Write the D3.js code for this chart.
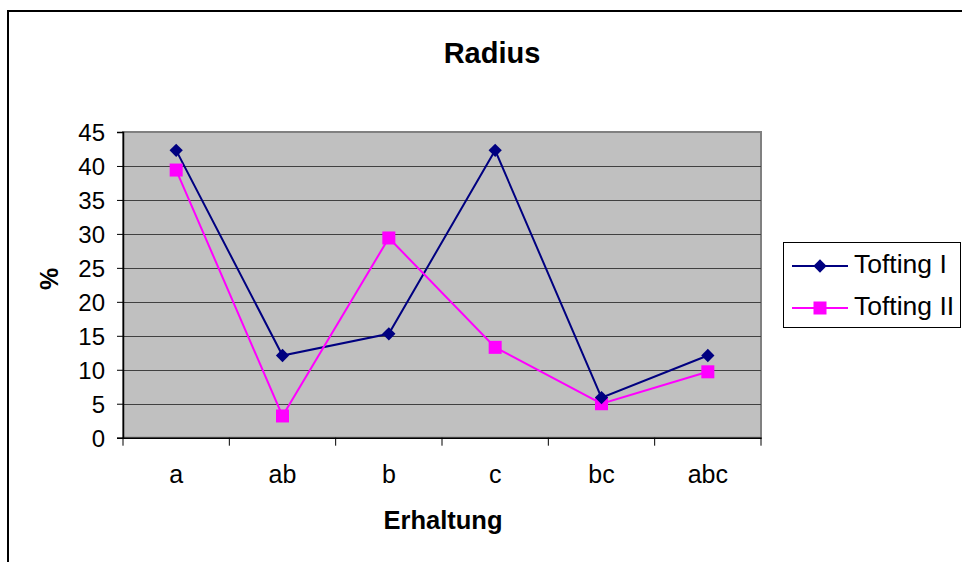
<!DOCTYPE html>
<html><head><meta charset="utf-8">
<script src="https://cdn.jsdelivr.net/npm/d3@7"></script>
<style>body{margin:0;background:#fff}svg{display:block;font-family:"Liberation Sans",Arial,sans-serif}</style>
</head><body>
<svg id="c" width="962" height="562"></svg>
<script>
const categories = ["a","ab","b","c","bc","abc"];
const seriesNames = ["Tofting I","Tofting II"];
const toftingI = [42.3, 12.1, 15.3, 42.3, 5.9, 12.1];
const toftingII = [39.4, 3.2, 29.4, 13.3, 5.0, 9.7];
const yTicks = [0,5,10,15,20,25,30,35,40,45];
const colors = ["#000080","#FF00FF"];

const FF = "Liberation Sans, Arial, sans-serif";
const svg = d3.select("#c");
svg.append("rect").attr("x",8).attr("y",11).attr("width",970).attr("height",570)
  .attr("fill","#fff").attr("stroke","#000").attr("stroke-width",2);

const L=123, R=761, T=132, B=437.7;
const x = d3.scaleBand().domain(categories).range([L,R]);
const y = d3.scaleLinear().domain([0,45]).range([B,T]);

svg.append("rect").attr("x",L).attr("y",T).attr("width",R-L).attr("height",B-T)
  .attr("fill","#c0c0c0").attr("stroke","#808080").attr("stroke-width",2);

svg.append("g").selectAll("line").data(yTicks.filter(d=>d>0&&d<45)).join("line")
  .attr("x1",L).attr("x2",R).attr("y1",d=>Math.round(y(d))+0.5).attr("y2",d=>Math.round(y(d))+0.5)
  .attr("stroke","#404040").attr("stroke-width",1);

// y axis
const ya = svg.append("g").attr("transform",`translate(${L},0)`)
  .call(d3.axisLeft(y).tickValues(yTicks).tickSize(6).tickPadding(12));
ya.select(".domain").attr("stroke","#000").attr("stroke-width",1.5);
ya.selectAll(".tick line").attr("stroke","#000");
ya.selectAll("text").attr("font-size",24).attr("fill","#000").attr("font-family",FF).attr("dy","0.36em");

// x axis
const xa = svg.append("g").attr("transform",`translate(0,${B})`)
  .call(d3.axisBottom(x).tickSize(0).tickPadding(36));
xa.select(".domain").attr("stroke","#000").attr("stroke-width",1.5);
xa.selectAll("text").attr("font-size",25).attr("fill","#000").attr("font-family",FF).attr("dy","0.36em");
const bounds = categories.map(c=>x(c)).concat([R]);
svg.append("g").selectAll("line").data(bounds).join("line")
  .attr("x1",d=>d).attr("x2",d=>d).attr("y1",B).attr("y2",B+8).attr("stroke","#000");

const line = d3.line().x((d,i)=>x(categories[i])+x.bandwidth()/2).y(d=>y(d));
const data = [toftingI, toftingII];
data.forEach((vals,si)=>{
  svg.append("path").attr("d",line(vals)).attr("fill","none").attr("stroke",colors[si]).attr("stroke-width",2);
});
// markers
svg.append("g").selectAll("rect").data(toftingII).join("rect")
  .attr("x",(d,i)=>x(categories[i])+x.bandwidth()/2-6.5).attr("y",d=>y(d)-6.5)
  .attr("width",13).attr("height",13).attr("fill",colors[1]);
svg.append("g").selectAll("path").data(toftingI).join("path")
  .attr("d",d3.symbol(d3.symbolSquare,88))
  .attr("transform",(d,i)=>`translate(${x(categories[i])+x.bandwidth()/2},${y(d)}) rotate(45)`)
  .attr("fill",colors[0]);

// titles
svg.append("text").attr("x",492).attr("y",63).attr("text-anchor","middle")
  .attr("font-size",29).attr("font-weight","bold").text("Radius");
svg.append("text").attr("x",443).attr("y",529).attr("text-anchor","middle")
  .attr("font-size",25.5).attr("font-weight","bold").text("Erhaltung");
svg.append("text").attr("transform","translate(58,279) rotate(-90)").attr("text-anchor","middle")
  .attr("font-size",25).attr("font-weight","bold").text("%");

// legend
const lg = svg.append("g");
lg.append("rect").attr("x",783.5).attr("y",242.5).attr("width",177).attr("height",85)
  .attr("fill","#fff").attr("stroke","#000").attr("stroke-width",1);
seriesNames.forEach((n,i)=>{
  const cy = 266 + i*42;
  lg.append("line").attr("x1",792).attr("x2",848).attr("y1",cy).attr("y2",cy).attr("stroke",colors[i]).attr("stroke-width",2);
  if(i===0){
    lg.append("path").attr("d",d3.symbol(d3.symbolSquare,88)).attr("transform",`translate(820,${cy}) rotate(45)`).attr("fill",colors[0]);
  } else {
    lg.append("rect").attr("x",813.5).attr("y",cy-6.5).attr("width",13).attr("height",13).attr("fill",colors[1]);
  }
  lg.append("text").attr("x",854).attr("y",cy+7).attr("font-size",26.5).text(n);
});
</script>
</body></html>
